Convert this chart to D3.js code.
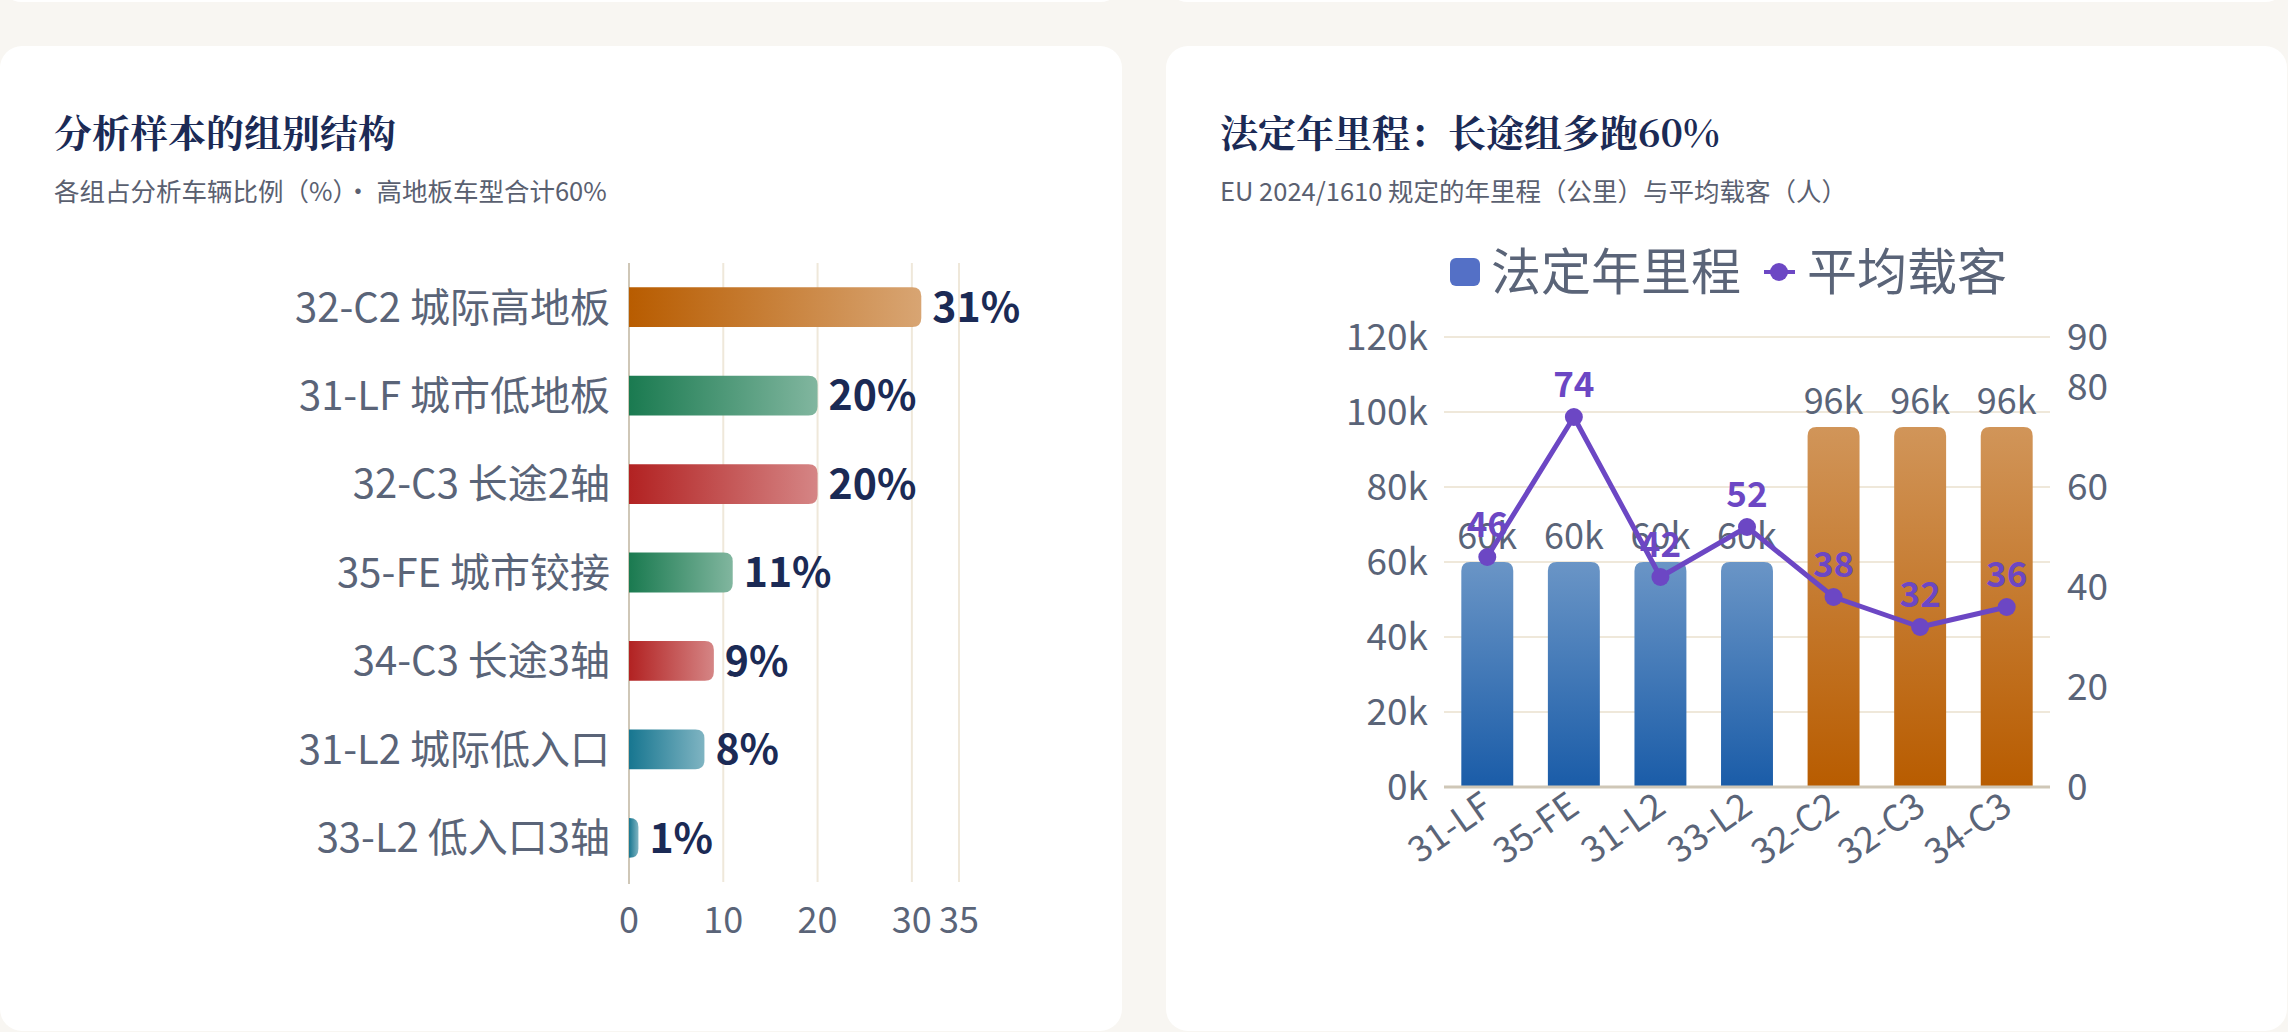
<!DOCTYPE html>
<html>
<head>
<meta charset="utf-8">
<script src="https://cdn.jsdelivr.net/npm/d3@7"></script>
<style>
  html, body { margin: 0; padding: 0; background: #f8f6f2; }
  svg { display: block; }
  text { font-family: "Noto Sans CJK SC", "Noto Sans", sans-serif; }
  .title { font-family: Georgia, "Noto Serif CJK SC", serif; font-weight: 700; fill: #1b2a55; }
</style>
</head>
<body>
<div id="page"></div>
<script>
// left chart: share of analysed vehicles per group (%)
const groupNames = ["32-C2 城际高地板", "31-LF 城市低地板", "32-C3 长途2轴", "35-FE 城市铰接", "34-C3 长途3轴", "31-L2 城际低入口", "33-L2 低入口3轴"];
const groupShare = [31, 20, 20, 11, 9, 8, 1];
const groupKind = ["orange", "green", "red", "green", "red", "teal", "teal"];
const shareTicks = [0, 10, 20, 30, 35];

// right chart: legal annual mileage (km) and mean passengers
const groupCodes = ["31-LF", "35-FE", "31-L2", "33-L2", "32-C2", "32-C3", "34-C3"];
const mileage = [60000, 60000, 60000, 60000, 96000, 96000, 96000];
const mileKind = ["blue", "blue", "blue", "blue", "orange", "orange", "orange"];
const passengers = [46, 74, 42, 52, 38, 32, 36];
const mileTicks = [0, 20000, 40000, 60000, 80000, 100000, 120000];
const paxTicks = [0, 20, 40, 60, 80, 90];

const W = 2288, H = 1032;
const kindColor = { orange: "#b85c00", green: "#1a7a50", red: "#b22222", teal: "#177690", blue: "#1a5ca8" };

const svg = d3.select("#page").append("svg")
    .attr("width", W)
    .attr("height", H);

const defs = svg.append("defs");

// horizontal gradients for left bars, vertical ones for right bars
Object.keys(kindColor).forEach(k => {
    let g = defs.append("linearGradient").attr("id", "h-" + k)
        .attr("x1", 0).attr("x2", 1).attr("y1", 0).attr("y2", 0);
    g.append("stop").attr("offset", 0).attr("stop-color", kindColor[k]);
    g.append("stop").attr("offset", 1).attr("stop-color", d3.interpolateRgb(kindColor[k], "#fff")(0.45));

    let v = defs.append("linearGradient").attr("id", "v-" + k)
        .attr("x1", 0).attr("x2", 0).attr("y1", 0).attr("y2", 1);
    v.append("stop").attr("offset", 0).attr("stop-color", d3.interpolateRgb(kindColor[k], "#fff")(0.35));
    v.append("stop").attr("offset", 1).attr("stop-color", kindColor[k]);
});

// cards (bottoms of the row above peek in at the top)
svg.append("rect").attr("x", 0).attr("y", -40).attr("width", 1122).attr("height", 42).attr("rx", 22).attr("fill", "#fff");
svg.append("rect").attr("x", 1166).attr("y", -40).attr("width", 1121).attr("height", 42).attr("rx", 22).attr("fill", "#fff");
svg.append("rect").attr("x", 0).attr("y", 46).attr("width", 1122).attr("height", 985).attr("rx", 22).attr("fill", "#fff");
svg.append("rect").attr("x", 1166).attr("y", 46).attr("width", 1121).attr("height", 985).attr("rx", 22).attr("fill", "#fff");

// headers
svg.append("text").attr("class", "title").attr("x", 54).attr("y", 147).attr("font-size", 38).text("分析样本的组别结构");
svg.append("text").attr("x", 54).attr("y", 201).attr("font-size", 25.5).attr("fill", "#5a6070")
    .text("各组占分析车辆比例（%）· 高地板车型合计60%");
svg.append("text").attr("class", "title").attr("x", 1220).attr("y", 147).attr("font-size", 38).text("法定年里程：长途组多跑60%");
svg.append("text").attr("x", 1220).attr("y", 201).attr("font-size", 25.5).attr("fill", "#5a6070")
    .text("EU 2024/1610 规定的年里程（公里）与平均载客（人）");

// bar path with rounded corners on one end
const barRight = (x0, y0, w, h, r) => {
    r = Math.min(r, w, h / 2);
    return `M${x0},${y0}H${x0 + w - r}Q${x0 + w},${y0} ${x0 + w},${y0 + r}V${y0 + h - r}Q${x0 + w},${y0 + h} ${x0 + w - r},${y0 + h}H${x0}Z`;
};
const barTop = (x0, y0, w, h, r) => {
    r = Math.min(r, w / 2, h);
    return `M${x0},${y0 + h}V${y0 + r}Q${x0},${y0} ${x0 + r},${y0}H${x0 + w - r}Q${x0 + w},${y0} ${x0 + w},${y0 + r}V${y0 + h}Z`;
};

/* ---------- left chart ---------- */
let xL = d3.scaleLinear().domain([0, 35]).range([629, 959]);
let yL = d3.scaleBand().domain(groupNames).range([263, 882]).paddingInner(0.55).paddingOuter(0.275);

let gL = svg.append("g");

gL.selectAll("line.grid").data(shareTicks.filter(t => t > 0)).join("line")
    .attr("x1", d => xL(d)).attr("x2", d => xL(d))
    .attr("y1", 263).attr("y2", 882)
    .attr("stroke", "#efe8da").attr("stroke-width", 2);

gL.append("line").attr("x1", xL(0)).attr("x2", xL(0)).attr("y1", 263).attr("y2", 884)
    .attr("stroke", "#cfc7b7").attr("stroke-width", 2);

gL.selectAll("path.bar").data(groupShare).join("path")
    .attr("d", (d, i) => barRight(xL(0), yL(groupNames[i]), xL(d) - xL(0), yL.bandwidth(), 9))
    .attr("fill", (d, i) => `url(#h-${groupKind[i]})`);

gL.selectAll("text.cat").data(groupNames).join("text")
    .attr("x", 610).attr("y", d => yL(d) + yL.bandwidth() / 2)
    .attr("dy", "0.36em").attr("text-anchor", "end")
    .attr("font-size", 40).attr("fill", "#5a6478")
    .text(d => d);

gL.selectAll("text.val").data(groupShare).join("text")
    .attr("x", d => xL(d) + 11).attr("y", (d, i) => yL(groupNames[i]) + yL.bandwidth() / 2)
    .attr("dy", "0.36em")
    .attr("font-size", 41).attr("font-weight", 700).attr("fill", "#1b2a55")
    .text(d => d + "%");

gL.selectAll("text.tick").data(shareTicks).join("text")
    .attr("x", d => xL(d)).attr("y", 920).attr("dy", "0.36em")
    .attr("text-anchor", "middle")
    .attr("font-size", 36).attr("fill", "#5a6478")
    .text(d => d);

/* ---------- right chart ---------- */
let xR = d3.scaleBand().domain(groupCodes).range([1444, 2050]).paddingInner(0.4).paddingOuter(0.2);
let yM = d3.scaleLinear().domain([0, 120000]).range([787, 337]);
let yP = d3.scaleLinear().domain([0, 90]).range([787, 337]);

let gR = svg.append("g");

// legend
gR.append("rect").attr("x", 1450).attr("y", 258).attr("width", 30).attr("height", 28).attr("rx", 6).attr("fill", "#5470c6");
gR.append("text").attr("x", 1491).attr("y", 272).attr("dy", "0.36em").attr("font-size", 50).attr("fill", "#5a6478").text("法定年里程");
gR.append("line").attr("x1", 1764).attr("x2", 1795).attr("y1", 272).attr("y2", 272).attr("stroke", "#6c47c4").attr("stroke-width", 4);
gR.append("circle").attr("cx", 1779).attr("cy", 272).attr("r", 9).attr("fill", "#6c47c4");
gR.append("text").attr("x", 1807).attr("y", 272).attr("dy", "0.36em").attr("font-size", 50).attr("fill", "#5a6478").text("平均载客");

gR.selectAll("line.grid").data(mileTicks.filter(t => t > 0)).join("line")
    .attr("x1", 1444).attr("x2", 2050)
    .attr("y1", d => yM(d)).attr("y2", d => yM(d))
    .attr("stroke", "#efe8da").attr("stroke-width", 2);

gR.selectAll("path.bar").data(mileage).join("path")
    .attr("d", (d, i) => barTop(xR(groupCodes[i]), yM(d), xR.bandwidth(), yM(0) - yM(d), 9))
    .attr("fill", (d, i) => `url(#v-${mileKind[i]})`);

gR.append("line").attr("x1", 1444).attr("x2", 2050).attr("y1", yM(0)).attr("y2", yM(0))
    .attr("stroke", "#cfc7b7").attr("stroke-width", 3);

gR.selectAll("text.ml").data(mileTicks).join("text")
    .attr("x", 1428).attr("y", d => yM(d)).attr("dy", "0.36em")
    .attr("text-anchor", "end").attr("font-size", 37).attr("fill", "#5a6478")
    .text(d => (d / 1000) + "k");

gR.selectAll("text.pl").data(paxTicks).join("text")
    .attr("x", 2067).attr("y", d => yP(d)).attr("dy", "0.36em")
    .attr("font-size", 37).attr("fill", "#5a6478")
    .text(d => d);

gR.selectAll("text.bl").data(mileage).join("text")
    .attr("x", (d, i) => xR(groupCodes[i]) + xR.bandwidth() / 2)
    .attr("y", d => yM(d) - 13)
    .attr("text-anchor", "middle").attr("font-size", 36).attr("fill", "#5a6478")
    .text(d => Math.round(d / 1000) + "k");

gR.selectAll("text.xl").data(groupCodes).join("text")
    .attr("transform", d => `translate(${xR(d) + xR.bandwidth() / 2},${yM(0) + 14}) rotate(-35)`)
    .attr("dy", "0.36em").attr("text-anchor", "end")
    .attr("font-size", 36).attr("fill", "#5a6478")
    .text(d => d);

let lineGen = d3.line()
    .x((d, i) => xR(groupCodes[i]) + xR.bandwidth() / 2)
    .y(d => yP(d));

gR.append("path").datum(passengers)
    .attr("d", lineGen)
    .attr("fill", "none").attr("stroke", "#6c47c4").attr("stroke-width", 5)
    .attr("stroke-linejoin", "round");

gR.selectAll("circle.pt").data(passengers).join("circle")
    .attr("cx", (d, i) => xR(groupCodes[i]) + xR.bandwidth() / 2)
    .attr("cy", d => yP(d)).attr("r", 9)
    .attr("fill", "#6c47c4");

gR.selectAll("text.pv").data(passengers).join("text")
    .attr("x", (d, i) => xR(groupCodes[i]) + xR.bandwidth() / 2)
    .attr("y", d => yP(d) - 20)
    .attr("text-anchor", "middle").attr("font-size", 35).attr("font-weight", 700).attr("fill", "#6c47c4")
    .text(d => d);
</script>
</body>
</html>
